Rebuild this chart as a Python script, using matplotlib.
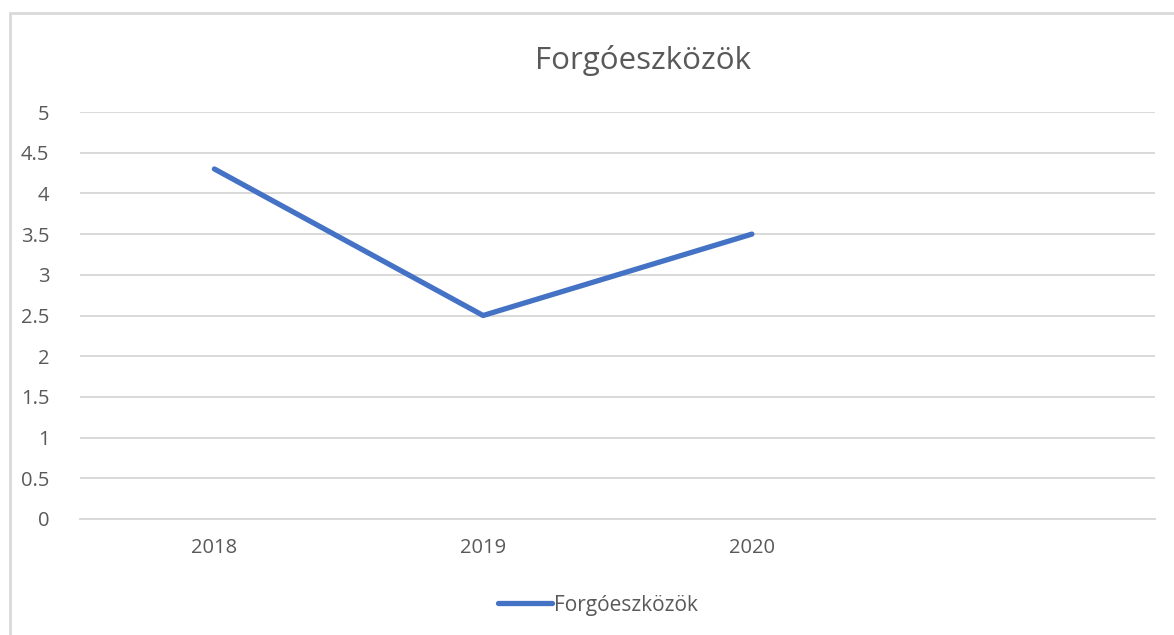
import matplotlib.pyplot as plt
from matplotlib.patches import Rectangle

categories = ['2018', '2019', '2020', '']
values = [4.3, 2.5, 3.5]
series_name = 'Forgóeszközök'
y_ticks = [0, 0.5, 1, 1.5, 2, 2.5, 3, 3.5, 4, 4.5, 5]

plt.rcParams['font.family'] = ['Open Sans', 'DejaVu Sans']
text_color = '#595959'
grid_color = '#d9d9d9'
line_color = '#4472c4'

fig = plt.figure(figsize=(11.74, 6.35), dpi=100)
ax = fig.add_axes([80 / 1174, 1 - 519 / 635, 1075 / 1174, 407 / 635])

# chart border (right and bottom edges fall outside the image)
fig.patches.append(Rectangle((10 / 1174, -0.1), 1.2, 1 - 13 / 635 + 0.1,
                             transform=fig.transFigure, fill=False,
                             edgecolor=grid_color, linewidth=2))

x = list(range(len(values)))
ax.plot(x, values, color=line_color, linewidth=3.8, solid_capstyle='round',
        label=series_name)

ax.set_xlim(-0.5, len(categories) - 0.5)
ax.set_ylim(0, 5)
ax.set_yticks(y_ticks)
ax.set_yticklabels([f'{t:g}' for t in y_ticks])
ax.set_xticks(range(len(categories)))
ax.set_xticklabels(categories)
ax.yaxis.grid(True, color=grid_color, linewidth=1.4)
ax.set_axisbelow(True)
for s in ['top', 'right', 'left']:
    ax.spines[s].set_visible(False)
ax.spines['bottom'].set_color(grid_color)
ax.spines['bottom'].set_linewidth(1.4)
ax.tick_params(length=0, labelsize=14.5, colors=text_color)
ax.tick_params(axis='y', pad=22)
ax.tick_params(axis='x', pad=14)

fig.text(0.548, 1 - 60 / 635, series_name, ha='center', va='center',
         fontsize=22.5, color=text_color)

fig.legend(loc='center', bbox_to_anchor=(0.5095, 1 - 605 / 635), frameon=False,
           fontsize=15, labelcolor=text_color, handlelength=2.6,
           handletextpad=0.1)

fig.savefig('out.png', dpi=100)
